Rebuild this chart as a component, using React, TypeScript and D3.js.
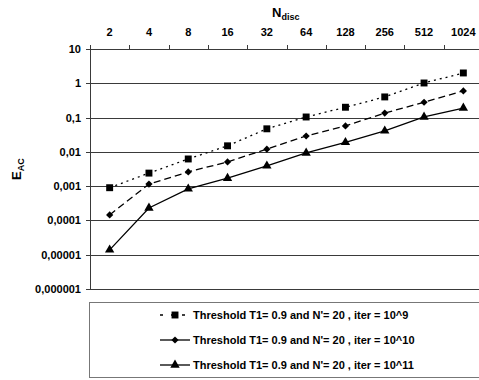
import * as d3 from "d3";
import React, { useEffect, useRef } from "react";

const categories = ["2", "4", "8", "16", "32", "64", "128", "256", "512", "1024"];
const iter9 = [0.0009, 0.0024, 0.0062, 0.015, 0.047, 0.104, 0.2, 0.4, 1.02, 2.0];
const iter10 = [0.000145, 0.00115, 0.0026, 0.0051, 0.012, 0.029, 0.057, 0.135, 0.28, 0.6];
const iter11 = [0.0000138, 0.00023, 0.00083, 0.0017, 0.0039, 0.0093, 0.019, 0.041, 0.104, 0.19];
const yTicks = [10, 1, 0.1, 0.01, 0.001, 0.0001, 0.00001, 0.000001];
const yTickLabels = ["10", "1", "0,1", "0,01", "0,001", "0,0001", "0,00001", "0,000001"];
const seriesNames = [
  "Threshold T1= 0.9 and N'= 20 , iter = 10^9",
  "Threshold T1= 0.9 and N'= 20 , iter = 10^10",
  "Threshold T1= 0.9 and N'= 20 , iter = 10^11",
];

const App = () => {
  const svgRef = useRef(null);

  useEffect(() => {
    const width = 479,
      height = 380,
      left = 90,
      top = 49,
      bottom = 289,
      right = 483;

    const svg = d3
      .select(svgRef.current)
      .html("")
      .attr("width", width)
      .attr("height", height)
      .style("font-family", "'Liberation Sans', Arial, sans-serif");

    svg.append("rect").attr("width", width).attr("height", height).attr("fill", "#fff");

    const x = d3.scaleBand().domain(categories).range([left, right]);
    const y = d3.scaleLog().domain([0.000001, 10]).range([bottom, top]);

    // gridlines
    svg
      .selectAll(".grid")
      .data(yTicks)
      .enter()
      .append("line")
      .attr("x1", left - 4)
      .attr("x2", right)
      .attr("y1", (d) => Math.round(y(d)) + 0.5)
      .attr("y2", (d) => Math.round(y(d)) + 0.5)
      .attr("stroke", "#3a3a3a")
      .attr("stroke-width", 1);

    svg
      .selectAll(".ylab")
      .data(yTicks)
      .enter()
      .append("text")
      .attr("x", left - 9)
      .attr("y", (d) => Math.round(y(d)) + 4)
      .attr("text-anchor", "end")
      .style("font-size", "11px")
      .style("font-weight", "bold")
      .text((d, i) => yTickLabels[i]);

    // left axis
    svg
      .append("line")
      .attr("x1", left + 0.5)
      .attr("x2", left + 0.5)
      .attr("y1", top)
      .attr("y2", bottom)
      .attr("stroke", "#3a3a3a");

    // top axis ticks
    const bounds = categories.map((c) => x(c)).concat([right]);
    svg
      .selectAll(".xtick")
      .data(bounds)
      .enter()
      .append("line")
      .attr("x1", (d) => Math.round(d) + 0.5)
      .attr("x2", (d) => Math.round(d) + 0.5)
      .attr("y1", top - 4)
      .attr("y2", top)
      .attr("stroke", "#3a3a3a");

    svg
      .selectAll(".xlab")
      .data(categories)
      .enter()
      .append("text")
      .attr("x", (d) => x(d) + x.bandwidth() / 2)
      .attr("y", 36)
      .attr("text-anchor", "middle")
      .style("font-size", "11px")
      .style("font-weight", "bold")
      .text((d) => d);

    // axis titles
    const xt = svg
      .append("text")
      .attr("x", 272)
      .attr("y", 17)
      .style("font-weight", "bold");
    xt.append("tspan").style("font-size", "13px").text("N");
    xt.append("tspan").attr("dy", 3).style("font-size", "9px").text("disc");

    const yt = svg
      .append("text")
      .attr("transform", "translate(21,180) rotate(-90)")
      .style("font-weight", "bold");
    yt.append("tspan").style("font-size", "13px").text("E");
    yt.append("tspan").attr("dy", 3).style("font-size", "9px").text("AC");

    const series = [
      { values: iter9, dash: "2,4", symbol: d3.symbolSquare, size: 48, rot: 0 },
      { values: iter10, dash: "7,4", symbol: d3.symbolSquare, size: 26, rot: 45 },
      { values: iter11, dash: null, symbol: d3.symbolTriangle, size: 38, rot: 0 },
    ];

    const line = d3
      .line()
      .x((d) => x(d[0]) + x.bandwidth() / 2)
      .y((d) => y(d[1]));

    series.forEach((s) => {
      const pts = categories.map((c, i) => [c, s.values[i]]);
      svg
        .append("path")
        .attr("d", line(pts))
        .attr("fill", "none")
        .attr("stroke", "#000")
        .attr("stroke-width", 1.3)
        .attr("stroke-dasharray", s.dash);
      svg
        .selectAll(null)
        .data(pts)
        .enter()
        .append("path")
        .attr("d", d3.symbol().type(s.symbol).size(s.size))
        .attr(
          "transform",
          (d) =>
            `translate(${x(d[0]) + x.bandwidth() / 2},${y(d[1])}) rotate(${s.rot})`
        )
        .attr("fill", "#000");
    });

    // legend
    svg
      .append("rect")
      .attr("x", 89.5)
      .attr("y", 302.5)
      .attr("width", 420)
      .attr("height", 75)
      .attr("fill", "none")
      .attr("stroke", "#777");

    const legend = svg
      .selectAll(".legend")
      .data(series)
      .enter()
      .append("g")
      .attr("transform", (d, i) => `translate(0, ${315 + i * 25})`);

    legend
      .append("line")
      .attr("x1", 160)
      .attr("x2", 190)
      .attr("stroke", "#000")
      .attr("stroke-width", 1.3)
      .attr("stroke-dasharray", (d, i) => (i === 0 ? "3,8" : null));

    legend
      .append("path")
      .attr("d", (d) => d3.symbol().type(d.symbol).size(d.size)())
      .attr("transform", (d) => `translate(175,0) rotate(${d.rot})`)
      .attr("fill", "#000");

    legend
      .append("text")
      .attr("x", 193)
      .attr("y", 4)
      .style("font-size", "11px")
      .style("font-weight", "bold")
      .text((d, i) => seriesNames[i]);
  }, []);

  return (
    <div style={{ position: "absolute", left: 0, top: 0 }}>
      <svg ref={svgRef} style={{ display: "block" }}></svg>
    </div>
  );
};

export default App;
